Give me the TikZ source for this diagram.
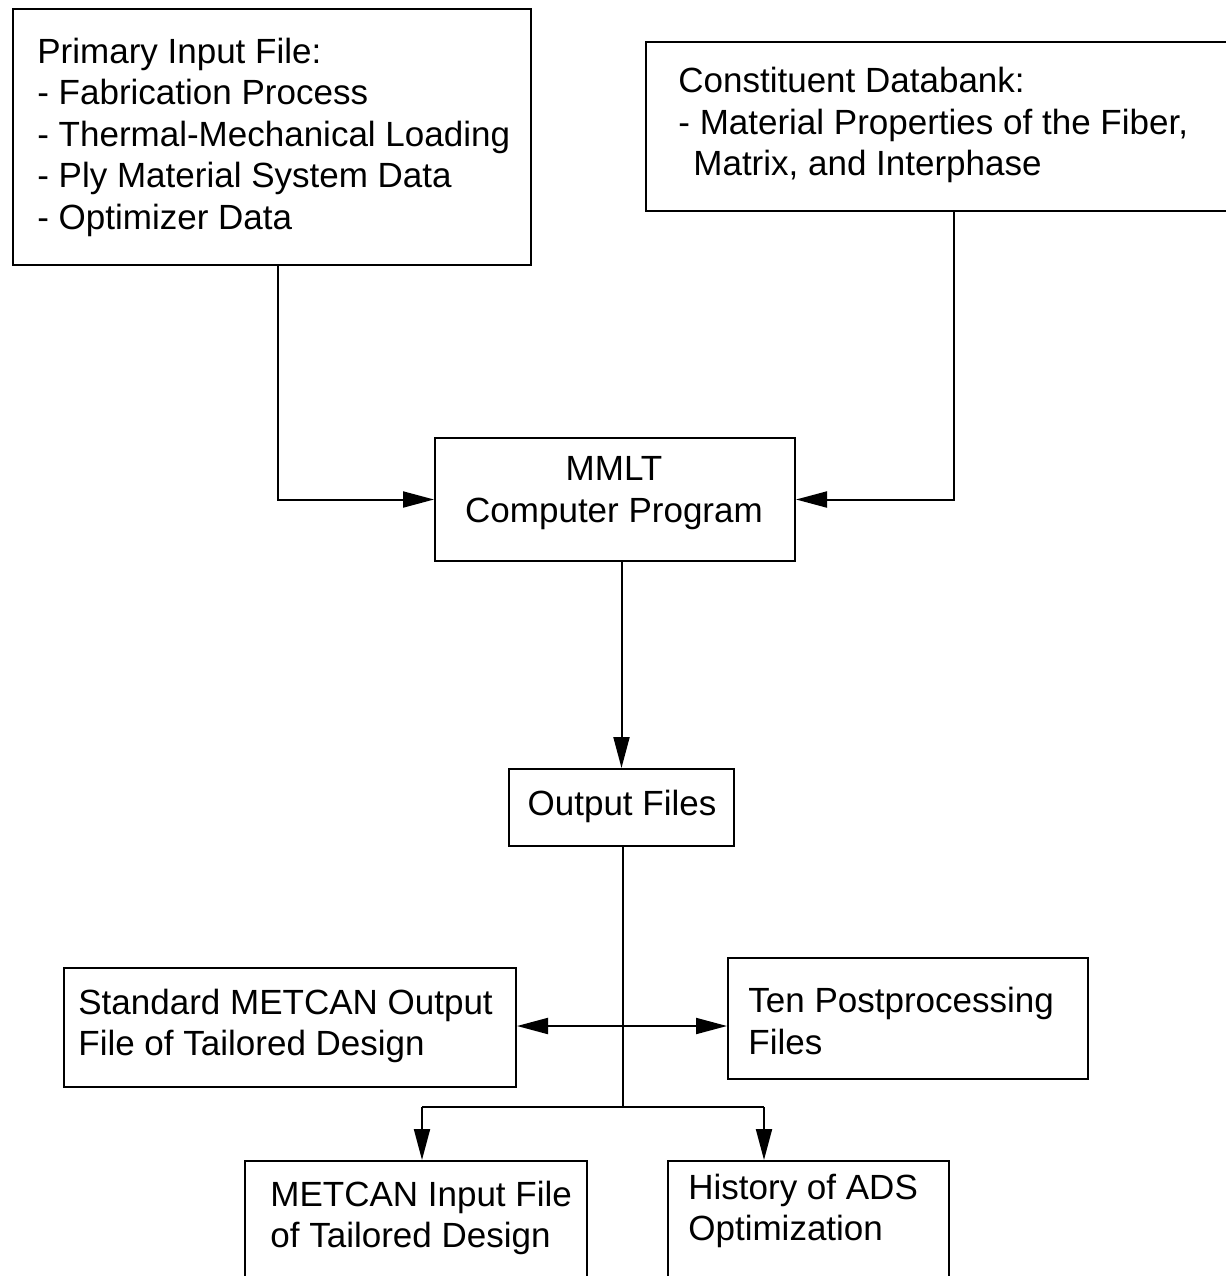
\documentclass[tikz,border=0pt]{standalone}
\usepackage{fontspec}
\setmainfont{Liberation Sans}
\usetikzlibrary{arrows.meta}

\begin{document}
\begin{tikzpicture}[x=0.5pt, y=-0.5pt,
    box/.style={draw, line width=1pt, inner sep=0pt, anchor=north west},
    txt/.style={inner sep=0pt, align=left, anchor=west, font=\fontsize{17.5}{20.75}\selectfont},
    flow/.style={line width=1pt, -{Triangle[length=15.5pt,width=8pt]}}]
  \useasboundingbox (0,0) rectangle (1226,1276);
  \clip (0,0) rectangle (1226,1276);

  % boxes
  \node[box, minimum width=259pt, minimum height=128pt] (prim) at (12,8) {};
  \node[box, minimum width=307.5pt, minimum height=84.5pt] (const) at (645,41) {};
  \node[box, minimum width=180pt, minimum height=61.5pt] (mmlt) at (434,437) {};
  \node[box, minimum width=112.5pt, minimum height=38.5pt] (out) at (508,768) {};
  \node[box, minimum width=226pt, minimum height=59.5pt] (std) at (63,967) {};
  \node[box, minimum width=180pt, minimum height=60.5pt] (ten) at (727,957) {};
  \node[box, minimum width=171pt, minimum height=70pt] (metin) at (244,1160) {};
  \node[box, minimum width=140.5pt, minimum height=70pt] (hist) at (667,1160) {};

  % texts
  \node[txt] (prim-t) at (37,137) {Primary Input File:\\- Fabrication Process\\- Thermal-Mechanical Loading\\- Ply Material System Data\\- Optimizer Data};
  \node[txt] (const-t) at (678,125) {Constituent Databank:\\- Material Properties of the Fiber,\\\hspace*{7.5pt}Matrix, and Interphase};
  \node[txt, align=center, anchor=center] (mmlt-t) at (614,493) {MMLT\\Computer Program};
  \node[txt, anchor=center] (out-t) at (622,806) {Output Files};
  \node[txt] (std-t) at (78,1026) {Standard METCAN Output\\File of Tailored Design};
  \node[txt] (ten-t) at (748,1021) {Ten Postprocessing\\Files};
  \node[txt] (metin-t) at (270,1218) {METCAN Input File\\of Tailored Design};
  \node[txt] (hist-t) at (688,1211) {History of ADS\\Optimization};

  % connectors
  \coordinate (hub) at (623,1026);
  \coordinate (fork) at (623,1107);
  \coordinate (inL) at (422,1107);
  \coordinate (inR) at (764,1107);

  \draw[flow] ([xshift=3pt]prim.south) |- (mmlt);
  \draw[flow] (const) |- (mmlt);
  \draw[flow] (mmlt.south -| out.north) -- (out.north);
  \draw[line width=1pt] (out.south -| hub) -- (fork);
  \draw[flow] (hub) -- (std.east |- hub);
  \draw[flow] (hub) -- (ten.west |- hub);
  \draw[line width=1pt] (inL) -- (inR);
  \draw[flow] (inL) -- (inL |- metin.north);
  \draw[flow] (inR) -- (inR |- hist.north);
\end{tikzpicture}
\end{document}
